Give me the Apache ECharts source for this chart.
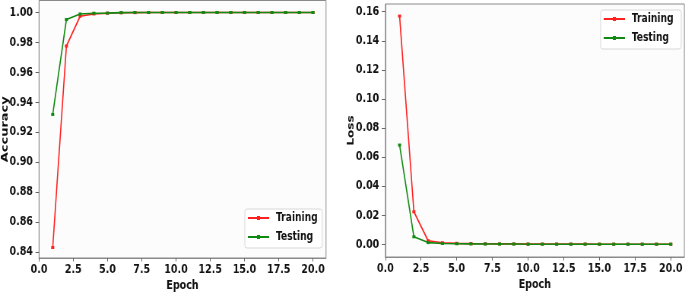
<!DOCTYPE html>
<html>
<head>
<meta charset="utf-8">
<script src="https://cdn.jsdelivr.net/npm/echarts@6/dist/echarts.min.js"></script>
<style>
  html, body { margin: 0; padding: 0; background: #fff; overflow: hidden; }
  /* the reference figure is squeezed sideways, so draw wider and squeeze */
  #chart { width: 901px; height: 294px; transform: scaleX(0.7603); transform-origin: 0 0; }
</style>
</head>
<body>
<div id="chart"></div>
<script>
const epochs = [1, 2, 3, 4, 5, 6, 7, 8, 9, 10, 11, 12, 13, 14, 15, 16, 17, 18, 19, 20]
const accTrain = [0.843, 0.9776, 0.9975, 0.999, 0.9995, 0.9998, 0.9999, 1.0, 1.0, 1.0,
  1.0, 1.0, 1.0, 1.0, 1.0, 1.0, 1.0, 1.0, 1.0, 1.0]
const accTest = [0.9319, 0.9953, 0.999, 0.9995, 0.9996, 0.9999, 1.0, 1.0, 1.0, 1.0,
  1.0, 1.0, 1.0, 1.0, 1.0, 1.0, 1.0, 1.0, 1.0, 1.0]
const lossTrain = [0.157, 0.0224, 0.0025, 0.0011, 0.0007, 0.0005, 0.0004, 0.0003, 0.0003, 0.0002,
  0.0002, 0.0002, 0.0002, 0.0002, 0.0001, 0.0001, 0.0001, 0.0001, 0.0001, 0.0001]
const lossTest = [0.0683, 0.0052, 0.0012, 0.0006, 0.0004, 0.0003, 0.0002, 0.0002, 0.0002, 0.0001,
  0.0001, 0.0001, 0.0001, 0.0001, 0.0001, 0.0001, 0.0001, 0.0001, 0.0001, 0.0001]
const xTicks = [0, 2.5, 5, 7.5, 10, 12.5, 15, 17.5, 20]
const accTicks = [0.84, 0.86, 0.88, 0.90, 0.92, 0.94, 0.96, 0.98, 1.00]
const lossTicks = [0, 0.02, 0.04, 0.06, 0.08, 0.10, 0.12, 0.14, 0.16]

const font = 'DejaVu Sans'
const frame = '#8a8a8a'

const pairs = (ys) => epochs.map((e, i) => [e, ys[i]])

const xAxis = function(gridIndex) {
  return {
    type: 'value', gridIndex: gridIndex, min: 0, max: 20.95,
    name: 'Epoch', nameLocation: 'middle', nameGap: 21, nameMoveOverlap: false,
    nameTextStyle: {fontFamily: font, fontWeight: 'bold', fontSize: 12.5, color: '#111'},
    axisLine: {show: true, onZero: false, lineStyle: {color: frame}},
    axisTick: {show: true, length: 3.5, customValues: xTicks, lineStyle: {color: '#666'}},
    axisLabel: {
      customValues: xTicks, margin: 5,
      fontFamily: font, fontWeight: 'bold', fontSize: 12.5, color: '#111',
      formatter: (v) => v.toFixed(1),
    },
    splitLine: {show: false},
  }
}

const yAxis = function(gridIndex, name, min, max, ticks, nameSize, gap) {
  return {
    type: 'value', gridIndex: gridIndex, min: min, max: max,
    name: name, nameLocation: 'middle', nameGap: gap, nameMoveOverlap: false,
    nameTextStyle: {fontFamily: font, fontWeight: 'bold', fontSize: nameSize, color: '#111'},
    axisLine: {show: true, onZero: false, lineStyle: {color: frame}},
    axisTick: {show: true, length: 4.6, customValues: ticks, lineStyle: {color: '#666'}},
    axisLabel: {
      customValues: ticks, margin: 8,
      fontFamily: font, fontWeight: 'bold', fontSize: 12.5, color: '#111',
      formatter: (v) => v.toFixed(2),
    },
    splitLine: {show: false},
  }
}

const line = function(name, data, color, idx) {
  return {
    name: name, type: 'line', data: data,
    xAxisIndex: idx, yAxisIndex: idx,
    symbol: 'rect', symbolSize: [4, 3],
    lineStyle: {color: color, width: 1.6},
    itemStyle: {color: color},
    animation: false,
  }
}

const legend = function(idx, left, top) {
  return {
    orient: 'vertical', left: left, top: top,
    data: idx == 0 ? ['Training', 'Testing'] : ['Training ', 'Testing '],
    itemWidth: 28, itemHeight: 5, itemGap: 7,
    padding: [3, 6, 5, 3],
    backgroundColor: 'rgba(255,255,255,0.85)',
    borderColor: '#d8d8d8', borderWidth: 1, borderRadius: 3,
    textStyle: {fontFamily: font, fontWeight: 'bold', fontSize: 12, color: '#111', padding: [0, 0, 0, 4]},
  }
}

const chart = echarts.init(document.getElementById('chart'), null, {renderer: 'canvas'})
chart.setOption({
  animation: false,
  grid: [
    {left: 51.3, width: 377.5, top: 0.5, bottom: 36, show: true, outerBoundsMode: 'none', containLabel: false,
      backgroundColor: '#fcfcfc', borderColor: frame, borderWidth: 1},
    {left: 506.8, width: 393.3, top: 4, bottom: 37, show: true, outerBoundsMode: 'none', containLabel: false,
      backgroundColor: '#fcfcfc', borderColor: frame, borderWidth: 1},
  ],
  xAxis: [xAxis(0), xAxis(1)],
  yAxis: [
    yAxis(0, 'Accuracy', 0.836, 1.008, accTicks, 13, 38),
    yAxis(1, 'Loss', -0.0087, 0.1653, lossTicks, 12, 39),
  ],
  legend: [legend(0, 322, 209), legend(1, 790, 10)],
  series: [
    line('Training', pairs(accTrain), '#ff2020', 0),
    line('Testing', pairs(accTest), '#108a10', 0),
    line('Training ', pairs(lossTrain), '#ff2020', 1),
    line('Testing ', pairs(lossTest), '#108a10', 1),
  ],
})
</script>
</body>
</html>
